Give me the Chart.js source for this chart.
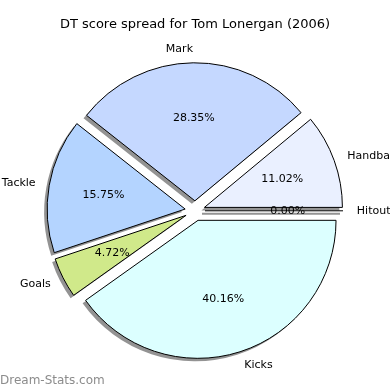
<!DOCTYPE html>
<html>
<head>
<meta charset="utf-8">
<script src="https://cdn.jsdelivr.net/npm/chart.js@4.4.1/dist/chart.umd.min.js"></script>
<style>
  html, body { margin: 0; padding: 0; background: #fff; }
</style>
</head>
<body>
<canvas id="pie" width="390" height="390"></canvas>
<script>
// slices in clockwise order starting at 3 o'clock
const labels = ["Kicks", "Goals", "Tackle", "Mark", "Handball", "Hitout"];
const scores = [102, 12, 40, 72, 28, 0];
const colors = ["#dcffff", "#d0e98a", "#b4d4ff", "#c5d8ff", "#eaf0ff", "#f4f4f4"];

const EXPLODE = 10;
const SHADOW = "rgba(40,40,40,0.5)";
let shadowPass = false;

// push each wedge out along its middle angle, and draw a grey copy for the shadow
const baseDraw = Chart.ArcElement.prototype.draw;
Chart.ArcElement.prototype.draw = function (ctx) {
  const mid = (this.startAngle + this.endAngle) / 2;
  let dx = Math.cos(mid) * EXPLODE;
  let dy = Math.sin(mid) * EXPLODE;
  const opts = this.options;
  ctx.save();
  if (shadowPass) {
    dx -= 3;
    dy += 3;
    this.options = Object.assign({}, opts, { backgroundColor: SHADOW, borderWidth: 0 });
  }
  ctx.translate(dx, dy);
  if (this.endAngle - this.startAngle === 0) {
    // zero slice: just the edge line
    ctx.beginPath();
    ctx.moveTo(this.x, this.y);
    ctx.lineTo(this.x + Math.cos(mid) * this.outerRadius, this.y + Math.sin(mid) * this.outerRadius);
    ctx.strokeStyle = shadowPass ? SHADOW : opts.borderColor;
    ctx.lineWidth = shadowPass ? 2 : opts.borderWidth;
    ctx.stroke();
  } else {
    baseDraw.call(this, ctx);
  }
  ctx.restore();
  this.options = opts;
};

const pieDecor = {
  id: "pieDecor",
  beforeDatasetsDraw(chart) {
    shadowPass = true;
    chart.getDatasetMeta(0).data.forEach(a => a.draw(chart.ctx));
    shadowPass = false;
  },
  afterDatasetsDraw(chart) {
    const ctx = chart.ctx;
    const total = scores.reduce((a, b) => a + b, 0);
    ctx.save();
    ctx.font = "11px 'DejaVu Sans'";
    ctx.fillStyle = "#000";
    ctx.textBaseline = "middle";
    chart.getDatasetMeta(0).data.forEach((a, i) => {
      const mid = (a.startAngle + a.endAngle) / 2;
      const c = Math.cos(mid), s = Math.sin(mid);
      const ox = a.x + c * EXPLODE, oy = a.y + s * EXPLODE;
      const r = a.outerRadius;
      ctx.textAlign = c > 0 ? "left" : "right";
      ctx.fillText(labels[i], ox + c * r * 1.1, oy + s * r * 1.1);
      ctx.textAlign = "center";
      ctx.fillText((scores[i] / total * 100).toFixed(2) + "%", ox + c * r * 0.6, oy + s * r * 0.6);
    });
    // watermark
    ctx.font = "12px 'DejaVu Sans'";
    ctx.fillStyle = "#8c8c8c";
    ctx.textAlign = "left";
    ctx.fillText("Dream-Stats.com", 0, 381);
    ctx.restore();
  }
};

Chart.defaults.font.family = "'DejaVu Sans', sans-serif";

new Chart(document.getElementById("pie"), {
  type: "pie",
  data: {
    labels: labels,
    datasets: [{
      data: scores,
      backgroundColor: colors,
      borderColor: "#000",
      borderWidth: 1
    }]
  },
  options: {
    responsive: false,
    animation: false,
    rotation: 90,
    radius: 138,
    layout: { padding: { top: 0, bottom: 1 } },
    plugins: {
      legend: { display: false },
      tooltip: { enabled: false },
      title: {
        display: true,
        text: "DT score spread for Tom Lonergan (2006)",
        color: "#000",
        font: { size: 13, weight: "normal" },
        padding: { top: 17, bottom: 0 }
      }
    }
  },
  plugins: [pieDecor]
});
</script>
</body>
</html>
